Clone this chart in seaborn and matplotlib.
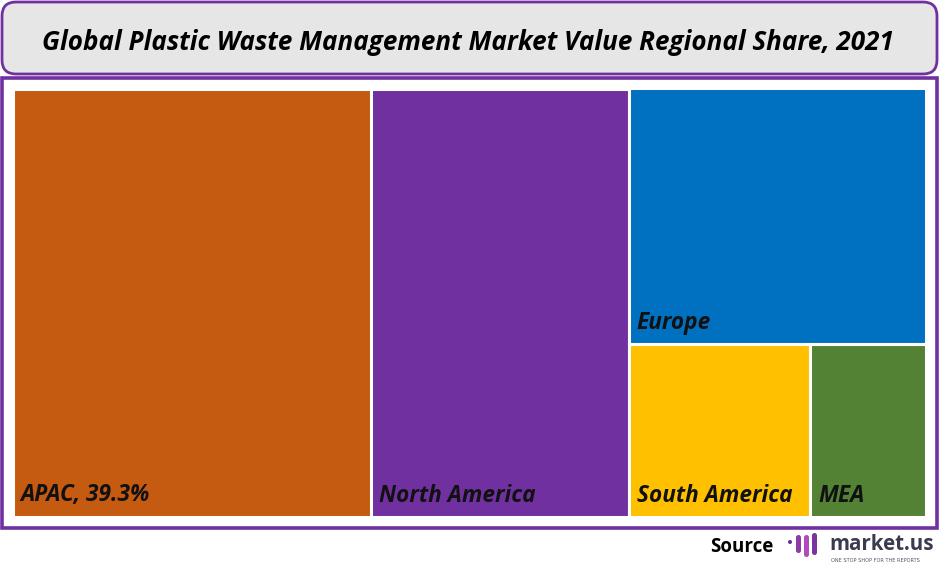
import matplotlib
matplotlib.use("Agg")
import matplotlib.pyplot as plt
from matplotlib.patches import FancyBboxPatch, Rectangle
import seaborn as sns
import pandas as pd

# ---- data ----
regions = ["APAC", "North America", "Europe", "South America", "MEA"]
shares = [39.3, 28.2, 19.4, 8.0, 5.1]
labels = ["APAC, 39.3%", "North America", "Europe", "South America", "MEA"]
colors = ["#C55A11", "#7030A0", "#0070C0", "#FFC000", "#548235"]
title = "Global Plastic Waste Management Market Value Regional Share, 2021"

sns.set_style("white")
plt.rcParams['font.family'] = ['Open Sans', 'DejaVu Sans']

df = pd.DataFrame({"region": regions, "share": shares, "label": labels, "color": colors})

# ---- treemap layout (slice and dice) computed from values ----
total = df["share"].sum()
rects = []
x = 0.0
for i in range(2):
    w = df.loc[i, "share"] / total * 100
    rects.append((x, 0.0, w, 100.0))
    x += w
rest_w = 100.0 - x
rest_total = df.loc[2:, "share"].sum()
h_eu = df.loc[2, "share"] / rest_total * 100
rects.append((x, 100.0 - h_eu, rest_w, h_eu))
bottom_total = df.loc[3:, "share"].sum()
bx = x
for i in range(3, 5):
    w = df.loc[i, "share"] / bottom_total * rest_w
    rects.append((bx, 0.0, w, 100.0 - h_eu))
    bx += w
df["x"] = [r[0] for r in rects]
df["y"] = [r[1] for r in rects]
df["w"] = [r[2] for r in rects]
df["h"] = [r[3] for r in rects]

W, H = 940, 570
fig = plt.figure(figsize=(W / 100, H / 100), dpi=100)
fig.patch.set_facecolor("white")

bg = fig.add_axes([0, 0, 1, 1])
bg.set_xlim(0, W)
bg.set_ylim(H, 0)
bg.axis("off")

purple = "#7030A0"
title_box = FancyBboxPatch((2, 2), 935, 72, boxstyle="round,pad=0,rounding_size=14",
                           facecolor="#E7E6E6", edgecolor=purple, linewidth=2.0)
bg.add_patch(title_box)
bg.text(468, 42, title, ha="center", va="center", fontsize=18.7,
        fontweight="bold", fontstyle="italic", color="black")

frame = Rectangle((2, 78), 935, 450, facecolor="white", edgecolor=purple, linewidth=2.6)
bg.add_patch(frame)

# Source + logo
bg.text(773, 547, "Source", ha="right", va="center", fontsize=13.5, fontweight="bold",
        color="black")
bg.add_patch(FancyBboxPatch((788, 540), 4, 4, boxstyle="round,pad=0,rounding_size=2",
                            facecolor="#6A2C91", edgecolor="none"))
bg.add_patch(FancyBboxPatch((796, 535), 5, 18, boxstyle="round,pad=0,rounding_size=2.5",
                            facecolor="#8E3AA8", edgecolor="none"))
bg.add_patch(FancyBboxPatch((804, 535), 5, 22, boxstyle="round,pad=0,rounding_size=2.5",
                            facecolor="#B04ABF", edgecolor="none"))
bg.add_patch(FancyBboxPatch((812, 533), 5, 22, boxstyle="round,pad=0,rounding_size=2.5",
                            facecolor="#7A34A0", edgecolor="none"))
bg.text(829, 544, "market.us", ha="left", va="center", fontsize=14.8, fontweight="bold",
        color="#3B3B4F")
bg.text(831, 560, "ONE STOP SHOP FOR THE REPORTS", ha="left", va="center", fontsize=3.6,
        color="#555566", family=["DejaVu Sans"])

# treemap axes
ax = fig.add_axes([12.5 / W, (H - 516.5) / H, 913 / W, 428 / H])
ax.set_xlim(0, 100)
ax.set_ylim(0, 100)
ax.axis("off")
ax.bar(df["x"], df["h"], width=df["w"], bottom=df["y"], align="edge",
       color=df["color"], edgecolor="white", linewidth=2.2)

px_x = 100 / 913
px_y = 100 / 428
for _, r in df.iterrows():
    ax.text(r["x"] + 8 * px_x, r["y"] + 9 * px_y, r["label"], ha="left", va="bottom",
            fontsize=16.3, fontweight="bold", fontstyle="italic", color="#111111")

fig.savefig("out.png", dpi=100, facecolor="white")
